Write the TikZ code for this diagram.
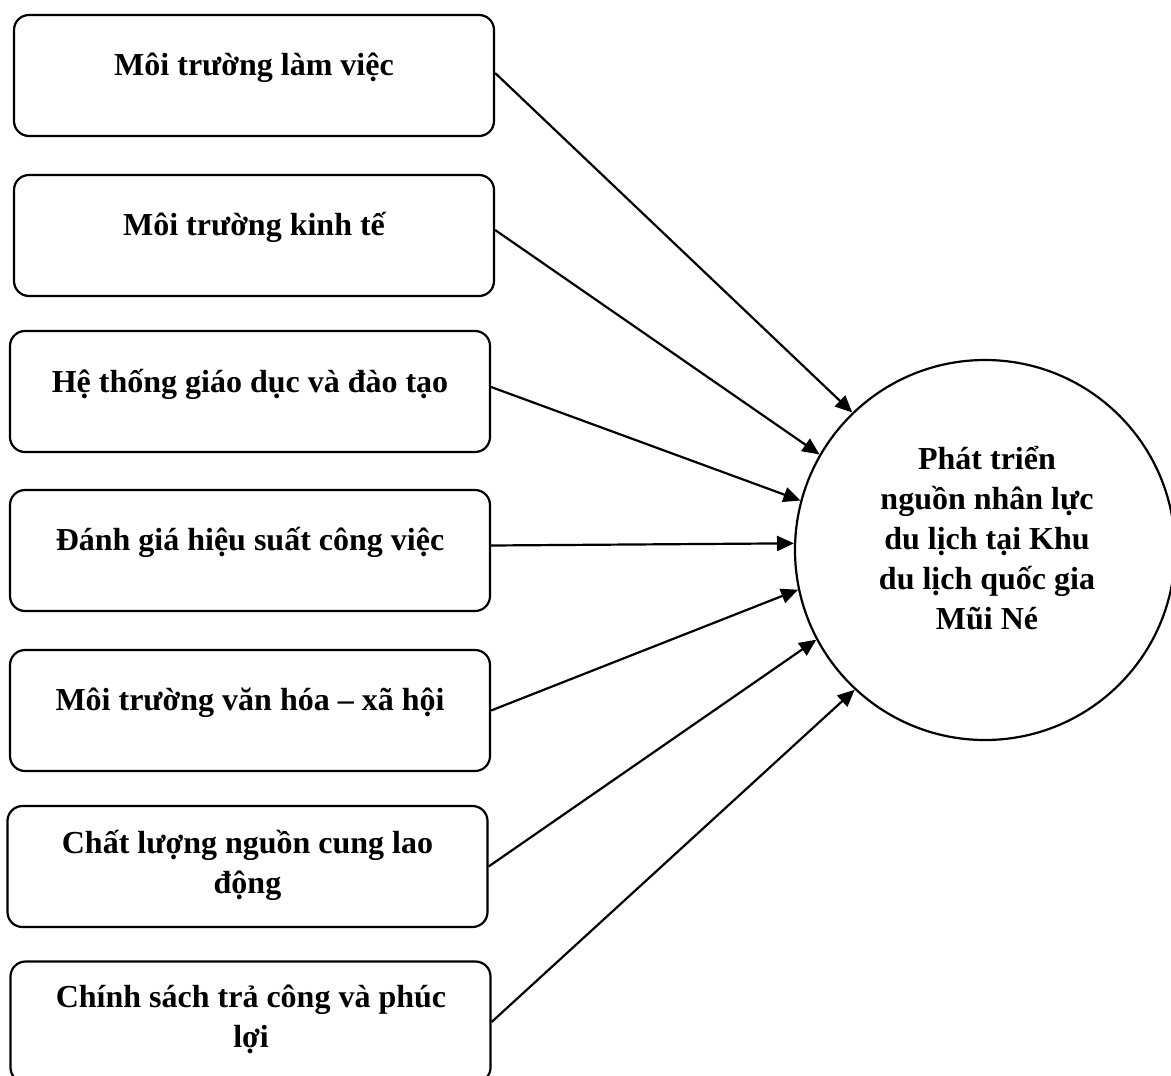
\documentclass[tikz,border=0pt]{standalone}
\usepackage{fontspec}
\setmainfont{Liberation Serif}
\usetikzlibrary{arrows.meta}
\begin{document}
\begin{tikzpicture}[x=0.5pt,y=-0.5pt,
  box/.style={draw, line width=1.1pt, rounded corners=7.5pt, minimum width=240pt, minimum height=60.5pt, inner sep=0pt},
  lbl/.style={font=\fontsize{16}{20}\selectfont\bfseries, align=center, inner sep=0pt, anchor=base},
  arr/.style={line width=1.1pt, -{Triangle[length=8.5pt,width=7.5pt]}}]
\useasboundingbox (0,0) rectangle (1171,1075);
\node[box] (b1) at (254,75.5) {};
\node[box] (b2) at (254,235.5) {};
\node[box] (b3) at (250,391.5) {};
\node[box] (b4) at (250,550.5) {};
\node[box] (b5) at (250,710.5) {};
\node[box] (b6) at (247.5,866.5) {};
\node[box] (b7) at (250.5,1022) {};
\node[lbl] (t1) at (254,76) {Môi trường làm việc};
\node[lbl] (t2) at (254,235) {Môi trường kinh tế};
\node[lbl] (t3) at (250,392) {Hệ thống giáo dục và đào tạo};
\node[lbl] (t4) at (250,550) {Đánh giá hiệu suất công việc};
\node[lbl] (t5) at (250,710) {Môi trường văn hóa – xã hội};
\node[lbl] (t6) at (247.5,893) {Chất lượng nguồn cung lao\\động};
\node[lbl] (t7) at (251,1047) {Chính sách trả công và phúc\\lợi};
\node[draw, circle, line width=1.1pt, minimum size=190pt, inner sep=0pt] (c) at (985,550) {};
\node[lbl] (tc) at (987,629) {Phát triển\\nguồn nhân lực\\du lịch tại Khu\\du lịch quốc gia\\Mũi Né};
\draw[arr] ([yshift=1.25pt]b1.east) -- (c.134.8);
\draw[arr] ([yshift=2.75pt]b2.east) -- (c.150.3);
\draw[arr] ([yshift=2.25pt]b3.east) -- (c.165.7);
\draw[arr] ([yshift=2.5pt]b4.east) -- (c.178.5);
\draw[arr] (b5.east) -- (c.192.8);
\draw[arr] (b6.east) -- (c.208.2);
\draw[arr] (b7.east) -- (c.227.9);
\end{tikzpicture}
\end{document}
